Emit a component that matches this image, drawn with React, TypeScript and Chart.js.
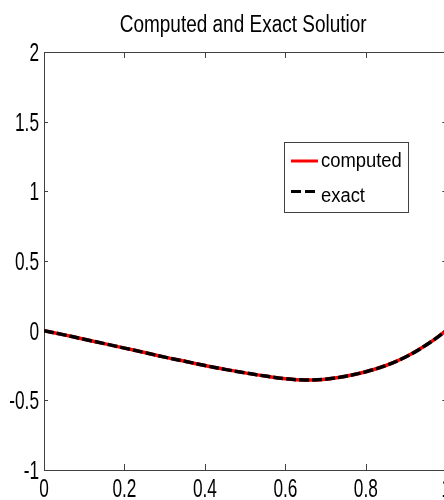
import React, { useEffect, useRef } from "react";
import { Chart, registerables } from "chart.js";

Chart.register(...registerables);

const TITLE = "Computed and Exact Solutior";
const FONT = "'Liberation Sans', Arial, Helvetica, sans-serif";

// x positions of the sampled solution
const xValues = [0, 0.05, 0.1, 0.15, 0.2, 0.25, 0.3, 0.35, 0.4, 0.45, 0.5, 0.55, 0.6, 0.65, 0.7, 0.75, 0.8, 0.85, 0.9, 0.95, 1.0];
// computed solution
const computedValues = [0, -0.03, -0.062, -0.093, -0.125, -0.157, -0.19, -0.22, -0.25, -0.278, -0.303, -0.326, -0.345, -0.354, -0.348, -0.327, -0.295, -0.25, -0.187, -0.103, 0];
// exact solution (overlaps the computed one)
const exactValues = [0, -0.03, -0.062, -0.093, -0.125, -0.157, -0.19, -0.22, -0.25, -0.278, -0.303, -0.326, -0.345, -0.354, -0.348, -0.327, -0.295, -0.25, -0.187, -0.103, 0];

const seriesLabels = ["computed", "exact"];
const xTicks = [0, 0.2, 0.4, 0.6, 0.8, 1];
const yTicks = [-1, -0.5, 0, 0.5, 1, 1.5, 2];

const frameColor = "#404040";

const fmt = (v: any) => String(Math.round(Number(v) * 10) / 10);

function squishText(ctx: any, text: string, x: number, y: number, size: number, sx: number, align: string) {
  ctx.save();
  ctx.translate(x, y);
  ctx.scale(sx, 1);
  ctx.font = `${size}px ${FONT}`;
  ctx.fillStyle = "#000000";
  ctx.textAlign = align;
  ctx.textBaseline = "alphabetic";
  ctx.fillText(text, 0, 0);
  ctx.restore();
}

// MATLAB-like box, inward tick marks, tick labels and title
const framePlugin = {
  id: "matlabFrame",
  beforeDatasetsDraw(chart: any) {
    const { ctx, chartArea, scales } = chart;
    const { left, right, top, bottom } = chartArea;
    const xs = scales.x;
    const ys = scales.y;
    ctx.save();
    ctx.strokeStyle = frameColor;
    ctx.lineWidth = 1;
    ctx.beginPath();
    ctx.rect(Math.round(left) + 0.5, Math.round(top) + 0.5, Math.round(right - left), Math.round(bottom - top));
    xs.ticks.forEach((t: any) => {
      const px = Math.round(xs.getPixelForValue(t.value)) + 0.5;
      ctx.moveTo(px, bottom);
      ctx.lineTo(px, bottom - 6);
      ctx.moveTo(px, top);
      ctx.lineTo(px, top + 6);
    });
    ys.ticks.forEach((t: any) => {
      const py = Math.round(ys.getPixelForValue(t.value)) + 0.5;
      ctx.moveTo(left, py);
      ctx.lineTo(left + 4, py);
      ctx.moveTo(right, py);
      ctx.lineTo(right - 4, py);
    });
    ctx.stroke();
    ctx.restore();

    xs.ticks.forEach((t: any) => {
      const px = xs.getPixelForValue(t.value);
      squishText(ctx, fmt(t.value), px, bottom + 27, 25, 0.69, "center");
    });
    ys.ticks.forEach((t: any) => {
      const py = ys.getPixelForValue(t.value);
      squishText(ctx, fmt(t.value), left - 5, py + 9, 25, 0.69, "right");
    });
    squishText(ctx, TITLE, (left + right) / 2 - 2, 32, 23, 0.825, "center");
  },
};

const legendPlugin = {
  id: "matlabLegend",
  afterDraw(chart: any) {
    const { ctx, chartArea } = chart;
    const w = chartArea.right - chartArea.left;
    const h = chartArea.bottom - chartArea.top;
    const bx = Math.round(chartArea.left + w * 0.597);
    const by = Math.round(chartArea.top + h * 0.216);
    const bw = 124;
    const bh = 70;
    const lineOffsets = [19, 49.5];
    const textOffsets = [25, 60];
    ctx.save();
    ctx.fillStyle = "#ffffff";
    ctx.fillRect(bx, by, bw, bh);
    ctx.strokeStyle = frameColor;
    ctx.lineWidth = 1;
    ctx.strokeRect(bx + 0.5, by + 0.5, bw, bh);
    chart.data.datasets.forEach((ds: any, i: number) => {
      const cy = by + lineOffsets[i];
      ctx.beginPath();
      ctx.strokeStyle = ds.borderColor;
      ctx.lineWidth = 3;
      ctx.setLineDash(ds.borderDash ? [10, 4] : []);
      ctx.moveTo(bx + 7, cy);
      ctx.lineTo(bx + 34, cy);
      ctx.stroke();
      ctx.setLineDash([]);
      squishText(ctx, ds.label, bx + 37, by + textOffsets[i], 20, 0.92, "left");
    });
    ctx.restore();
  },
};

export default function App() {
  const canvasRef = useRef<HTMLCanvasElement | null>(null);

  useEffect(() => {
    const canvas = canvasRef.current;
    if (!canvas) return;
    const chart = new Chart(canvas, {
      type: "line",
      data: {
        datasets: [
          {
            label: seriesLabels[0],
            data: xValues.map((x, i) => ({ x, y: computedValues[i] })),
            borderColor: "#ff0000",
            borderWidth: 3.5,
            pointRadius: 0,
            tension: 0.4,
            fill: false,
            order: 1,
          },
          {
            label: seriesLabels[1],
            data: xValues.map((x, i) => ({ x, y: exactValues[i] })),
            borderColor: "#000000",
            borderWidth: 3.5,
            borderDash: [10, 3],
            pointRadius: 0,
            tension: 0.4,
            fill: false,
            order: 0,
          },
        ],
      },
      options: {
        responsive: false,
        animation: false,
        devicePixelRatio: 1,
        layout: { padding: { left: 44, right: 3.7, top: 52, bottom: 30 } },
        plugins: {
          legend: { display: false },
          tooltip: { enabled: false },
          title: { display: false },
        },
        scales: {
          x: {
            type: "linear",
            display: false,
            min: 0,
            max: 1,
            afterBuildTicks: (s: any) => {
              s.ticks = xTicks.map((v) => ({ value: v }));
            },
          },
          y: {
            type: "linear",
            display: false,
            min: -1,
            max: 2,
            afterBuildTicks: (s: any) => {
              s.ticks = yTicks.map((v) => ({ value: v }));
            },
          },
        },
      },
      plugins: [framePlugin, legendPlugin],
    } as any);
    return () => chart.destroy();
  }, []);

  return (
    <div
      style={{
        position: "fixed",
        left: 0,
        top: 0,
        width: 444,
        height: 500,
        overflow: "hidden",
        background: "#ffffff",
      }}
    >
      <canvas ref={canvasRef} width={450} height={500} style={{ display: "block" }} />
    </div>
  );
}
